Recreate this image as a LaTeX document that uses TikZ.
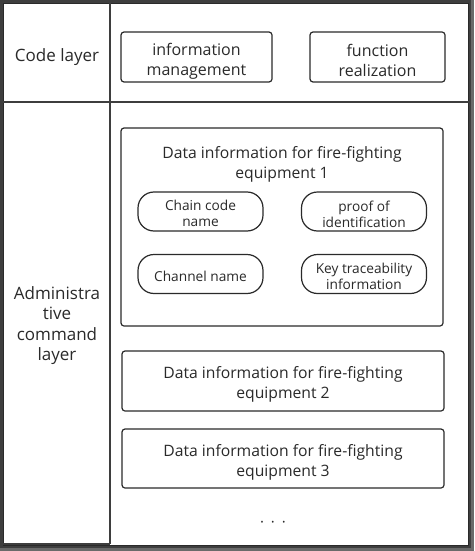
\documentclass[tikz,border=0pt]{standalone}
\usepackage{fontspec}
\setmainfont{Open Sans}
\definecolor{framedark}{HTML}{3E3E3E}
\definecolor{frameouter}{HTML}{6A6A6A}
\definecolor{ink}{HTML}{2A2A2A}
\definecolor{txt}{HTML}{2A2A2A}
\begin{document}
\begin{tikzpicture}[x=1pt,y=-1pt,
  box/.style={draw=ink,line width=1.2pt,rounded corners=3pt,inner sep=0pt},
  pill/.style={draw=ink,line width=1.2pt,rounded corners=16pt,inner sep=0pt,
    minimum width=125pt,minimum height=39pt},
  txtbase/.style={align=center,inner sep=0pt,text=txt},
  lbl/.style={txtbase,font=\fontsize{17}{20.5}\selectfont},
  codet/.style={txtbase,font=\fontsize{16}{20}\selectfont},
  eqt/.style={txtbase,font=\fontsize{15.7}{20}\selectfont},
  pillt/.style={txtbase,font=\fontsize{13.7}{16}\selectfont},
  sep/.style={draw=framedark,line width=1.6pt}]
\useasboundingbox (0,0) rectangle (474,551);
\fill[frameouter] (0,0) rectangle (474,551);
\fill[framedark] (0,0) rectangle (471,548);
\fill[white] (3,3) rectangle (469,546);
\draw[ink,line width=0.6pt] (3.3,3.3) rectangle (468.7,545.7);
\coordinate (ct) at (110,3);
\coordinate (cb) at (110,544);
\coordinate (cl) at (3,544);
\coordinate (hl) at (3,102);
\coordinate (hr) at (469,102);
\draw[sep] (ct) -- (cb);
\draw[sep] (hl) -- (hr);
\draw[sep] (cl) -- (cb);
% left labels
\node[lbl] (code) at (57,57) {Code layer};
\node[lbl] (admin) at (57,325.5) {Administra\\tive\\command\\layer};
% code layer
\node[box,minimum width=151pt,minimum height=50pt] (im) at (196.5,57) {};
\node[codet] (imt) at (196.5,61.5) {information\\management};
\node[box,minimum width=135pt,minimum height=50pt] (fr) at (377.5,57) {};
\node[codet] (frt) at (377.5,60.5) {function\\realization};
% equipment 1
\node[box,minimum width=322pt,minimum height=198pt] (e1) at (282,227) {};
\node[eqt] (e1t) at (282,164.5) {Data information for fire-fighting\\equipment 1};
\node[pill] (cc) at (200.5,211.5) {};
\node[pillt] (cct) at (200.5,213) {Chain code\\name};
\node[pill] (pi) at (364,211.5) {};
\node[pillt] (pit) at (364,214) {proof of\\identification};
\node[pill] (cn) at (200.5,274) {};
\node[pillt] (cnt) at (200.5,276) {Channel name};
\node[pill] (kt) at (364,274) {};
\node[pillt] (ktt) at (364,276.5) {Key traceability\\information};
% equipment 2,3
\node[box,minimum width=322pt,minimum height=60pt] (e2) at (283,381) {};
\node[eqt] (e2t) at (283,384.5) {Data information for fire-fighting\\equipment 2};
\node[box,minimum width=322pt,minimum height=59pt] (e3) at (283,458.5) {};
\node[eqt] (e3t) at (283,462.5) {Data information for fire-fighting\\equipment 3};
\node[txtbase,font=\fontsize{15}{16}\selectfont] (dots) at (273,524) {·\hspace{7pt}·\hspace{7pt}·};
\end{tikzpicture}
\end{document}
